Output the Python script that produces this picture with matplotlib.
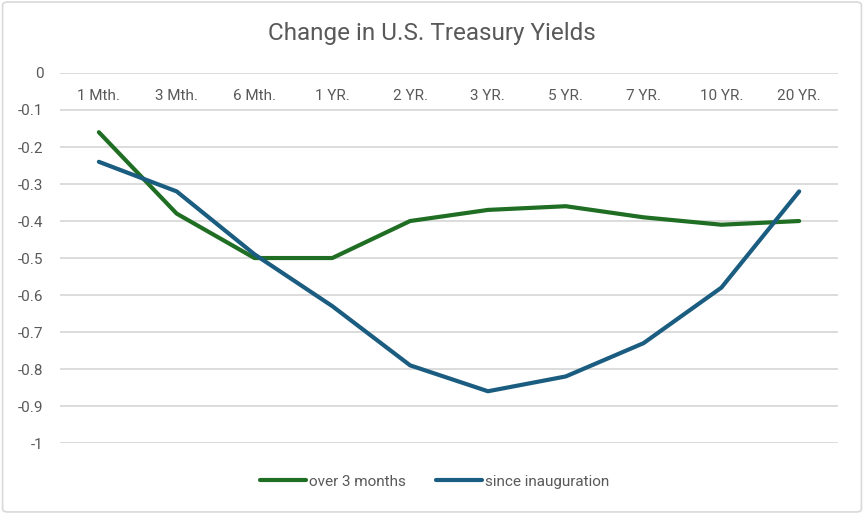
import matplotlib
matplotlib.use("Agg")
import matplotlib.pyplot as plt
from matplotlib.patches import FancyBboxPatch

# data
maturities = ["1 Mth.", "3 Mth.", "6 Mth.", "1 YR.", "2 YR.", "3 YR.",
              "5 YR.", "7 YR.", "10 YR.", "20 YR."]
over_3_months = [-0.16, -0.38, -0.50, -0.50, -0.40, -0.37, -0.36, -0.39, -0.41, -0.40]
since_inauguration = [-0.24, -0.32, -0.49, -0.63, -0.79, -0.86, -0.82, -0.73, -0.58, -0.32]
y_ticks = [0, -0.1, -0.2, -0.3, -0.4, -0.5, -0.6, -0.7, -0.8, -0.9, -1]

plt.rcParams['font.family'] = ['Roboto', 'DejaVu Sans']
plt.rcParams['axes.unicode_minus'] = False

text_col = '#595959'
green = '#1f6e24'
blue = '#1b5d80'

fig = plt.figure(figsize=(8.64, 5.14), dpi=100)
border = FancyBboxPatch((0.003, 0.004), 0.994, 0.992, boxstyle="round,pad=0,rounding_size=0.006",
                        transform=fig.transFigure, fill=False, edgecolor='#d9d9d9', linewidth=1.2)
fig.patches.append(border)

ax = fig.add_axes([0.0694, 0.138, 0.9006, 0.72])
x = list(range(len(maturities)))
ax.plot(x, over_3_months, color=green, linewidth=3, solid_capstyle='round', label='over 3 months')
ax.plot(x, since_inauguration, color=blue, linewidth=3, solid_capstyle='round', label='since inauguration')

ax.set_xlim(-0.5, len(maturities) - 0.5)
ax.set_ylim(-1, 0)
ax.set_yticks(y_ticks)
ax.set_yticklabels([f"{v:g}" for v in y_ticks])
ax.set_xticks([])
ax.tick_params(axis='y', length=0, pad=12, labelsize=11, labelcolor=text_col)
ax.grid(axis='y', color='#d9d9d9', linewidth=1.3)
ax.set_axisbelow(True)
for s in ax.spines.values():
    s.set_visible(False)

for i, lab in enumerate(maturities):
    ax.text(i, -0.062, lab, ha='center', va='center', fontsize=11, color=text_col)

fig.text(0.5, 0.935, "Change in U.S. Treasury Yields", ha='center', va='center',
         fontsize=17.5, color=text_col)

leg = fig.legend(loc='center', bbox_to_anchor=(0.503, 0.063), ncol=2, frameon=False,
                 fontsize=11, handlelength=3, handletextpad=0.2, columnspacing=2.0)
for t in leg.get_texts():
    t.set_color(text_col)

fig.savefig("out.png", dpi=100)
